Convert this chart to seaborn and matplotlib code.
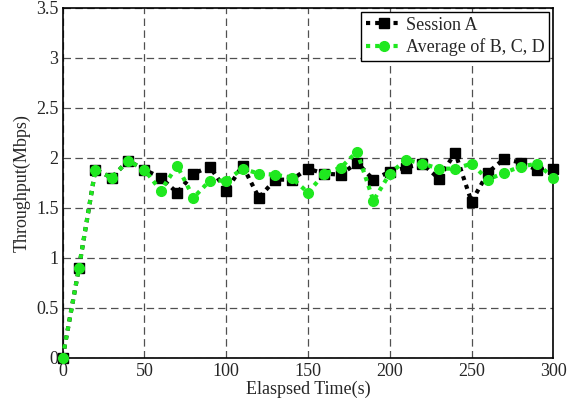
import numpy as np
import pandas as pd
import matplotlib
matplotlib.use('Agg')
import matplotlib.pyplot as plt
import seaborn as sns

# data
time_s = [0, 10, 20, 30, 40, 50, 60, 70, 80, 90, 100, 110, 120, 130, 140, 150,
          160, 170, 180, 190, 200, 210, 220, 230, 240, 250, 260, 270, 280, 290, 300]
session_a = [0.0, 0.90, 1.88, 1.80, 1.97, 1.88, 1.80, 1.65, 1.84, 1.91, 1.67, 1.92,
             1.60, 1.78, 1.78, 1.89, 1.84, 1.83, 1.95, 1.78, 1.86, 1.90, 1.94, 1.79,
             2.05, 1.56, 1.85, 1.99, 1.95, 1.88, 1.89]
avg_bcd = [0.0, 0.90, 1.88, 1.80, 1.97, 1.88, 1.67, 1.92, 1.60, 1.77, 1.77, 1.89,
           1.84, 1.83, 1.80, 1.65, 1.84, 1.90, 2.06, 1.57, 1.84, 1.98, 1.94, 1.89,
           1.89, 1.94, 1.78, 1.85, 1.91, 1.94, 1.80]
labels = ['Session A', 'Average of B, C, D']

sns.set_style('white')
plt.rcParams['font.family'] = ['Liberation Serif', 'DejaVu Serif']
plt.rcParams['font.size'] = 13

df = pd.DataFrame({'t': time_s, 'a': session_a, 'bcd': avg_bcd})

fig = plt.figure(figsize=(5.8, 4.05), dpi=100)
ax = fig.add_axes([0.108, 0.117, 0.846, 0.864])

green = '#1fe81f'
dots = (0, (1, 1.2))
sns.lineplot(data=df, x='t', y='a', ax=ax, color='black', linestyle=dots, linewidth=3,
             marker='s', markersize=6.5, markeredgewidth=1, markeredgecolor='black',
             label=labels[0], clip_on=False, zorder=3)
sns.lineplot(data=df, x='t', y='bcd', ax=ax, color=green, linestyle=dots, linewidth=3,
             marker='o', markersize=7, markeredgewidth=1, markeredgecolor=green,
             label=labels[1], clip_on=False, zorder=4)

ax.set_xlim(0, 300)
ax.set_ylim(0, 3.5)
ax.set_xticks(np.arange(0, 301, 50))
ax.set_yticks(np.arange(0, 3.51, 0.5))
ax.set_yticklabels(['0', '0.5', '1', '1.5', '2', '2.5', '3', '3.5'])
ax.grid(True, color='#505050', linestyle=(0, (6, 3.5)), linewidth=0.9)
ax.set_axisbelow(True)
for s in ax.spines.values():
    s.set_color('black')
    s.set_linewidth(1.2)
ax.tick_params(axis='both', direction='in', length=4, labelsize=13)
ax.tick_params(axis='x', pad=4)
ax.tick_params(axis='y', pad=3)
ax.set_xlabel('Elaspsed Time(s)', fontsize=13, labelpad=0.5)
ax.set_ylabel('Throughput(Mbps)', fontsize=13, labelpad=4)

leg = ax.legend(loc='upper right', fancybox=False, framealpha=1, edgecolor='black',
                borderpad=0.25, labelspacing=0.25, handlelength=2.0, handletextpad=0.2,
                borderaxespad=0.25, fontsize=13)
leg.get_frame().set_linewidth(1.0)

fig.savefig('out.png', dpi=100)
